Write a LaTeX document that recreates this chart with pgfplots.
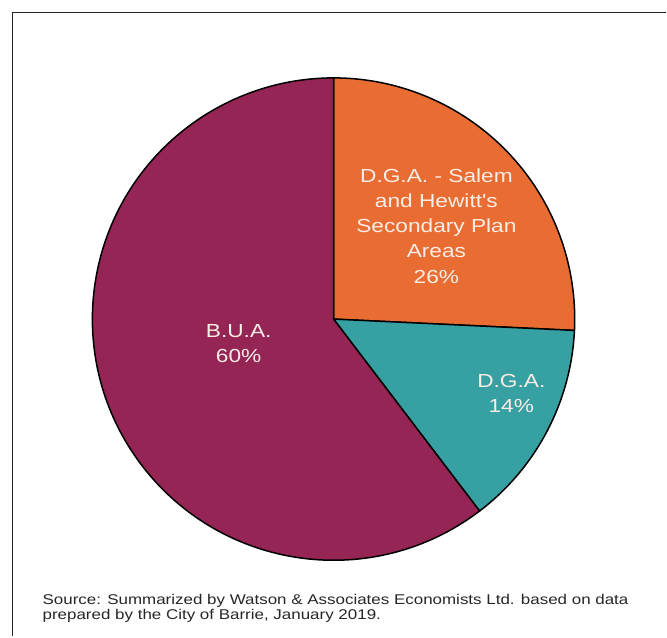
\documentclass[border=0pt]{standalone}
\usepackage{pgfplots}
\pgfplotsset{compat=1.18}
\usepackage{fontspec}
\setmainfont{Liberation Sans}
% the reference text is set somewhat wide
\newfontfamily\widesans{Liberation Sans}[FakeStretch=1.2]

\definecolor{bua}{HTML}{952554}
\definecolor{salem}{HTML}{E96D32}
\definecolor{dga}{HTML}{36A0A3}
\definecolor{labeltext}{HTML}{F9EDE6}
\definecolor{framecol}{HTML}{22252E}

\begin{document}
\begin{tikzpicture}
\begin{axis}[
    width=667bp, height=637bp, scale only axis,
    hide axis, clip=false,
    xmin=0, xmax=667, ymin=0, ymax=637, y dir=reverse,
]
% keep the page at the full picture size
\path (axis cs:0,0) (axis cs:667,637);
% outer frame (right and bottom edges run off the picture)
\draw[framecol, line width=1.8bp] (axis cs:12.5,637) -- (axis cs:12.5,12.5) -- (axis cs:667,12.5);

% slices, clockwise from the top: shares in percent
\def\angle{90}
\pgfplotsforeachungrouped \v/\c in {25.75/salem, 13.9/dga, 60.35/bua}{
    \pgfmathsetmacro\endangle{\angle-3.6*\v}
    \edef\temp{\noexpand\filldraw[fill=\c, draw=black, line width=1.5bp]
        (axis cs:334,319.5) -- ++(\angle:241.5bp)
        arc[start angle=\angle, end angle=\endangle, radius=241.5bp] -- cycle;}
    \temp
    \global\let\angle\endangle
}

% node base = baseline of the last line
\begin{scope}[every node/.style={inner sep=0pt, align=center, text=labeltext,
        font=\widesans\fontsize{19}{25.3}\selectfont}]
\node[anchor=base] at (axis cs:437,283.5) {D.G.A. - Salem\\and Hewitt's\\Secondary Plan\\Areas\\26\%};
\node[anchor=base] at (axis cs:239,363) {B.U.A.\\60\%};
\node[anchor=base] at (axis cs:512,413) {D.G.A.\\14\%};
\end{scope}

\node[anchor=base west, inner sep=0pt, align=left, text=black!85,
      font=\widesans\fontsize{14.2}{15.5}\selectfont] at (axis cs:42.5,620.5)
    {Source: Summarized by Watson \& Associates Economists Ltd. based on data\\prepared by the City of Barrie, January 2019.};
\end{axis}
\end{tikzpicture}
\end{document}
